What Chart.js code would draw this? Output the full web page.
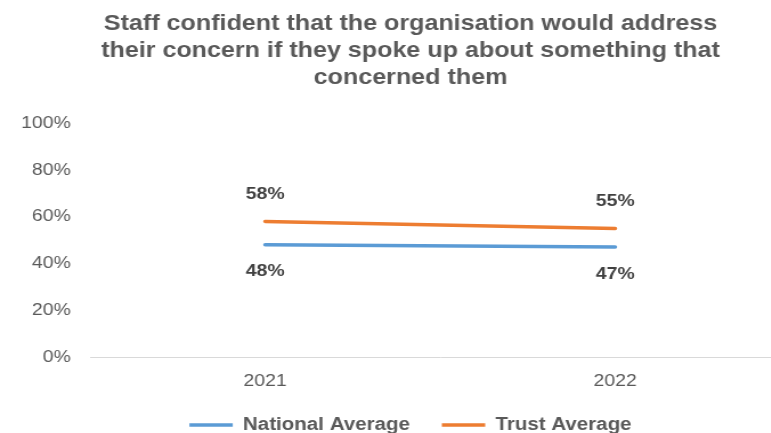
<!DOCTYPE html>
<html>
<head>
<meta charset="utf-8">
<script src="https://cdn.jsdelivr.net/npm/chart.js@4"></script>
<style>
  html, body { margin: 0; padding: 0; background: #fff; overflow: hidden; }
  /* canvas is drawn at 720px and shown wider */
  #chart { display: block; width: 821px !important; height: 433px !important; }
</style>
</head>
<body>
<canvas id="chart" width="720" height="433"></canvas>
<script>
const years = ['2021', '2022']
const nationalAverage = [48, 47]
const trustAverage = [58, 55]
const titleLines = [
    'Staff confident that the organisation would address',
    'their concern if they spoke up about something that',
    'concerned them'
]

const FONT = '"Liberation Sans", Arial, sans-serif'

// value labels: trust above its line, national below
const valueLabels = {
    id: 'valueLabels',
    afterDatasetsDraw(chart) {
        const ctx = chart.ctx
        ctx.save()
        ctx.font = 'bold 17px ' + FONT
        ctx.fillStyle = '#404040'
        ctx.textAlign = 'center'
        ctx.textBaseline = 'middle'
        chart.data.datasets.forEach((ds, i) => {
            const meta = chart.getDatasetMeta(i)
            const dy = ds.labelAbove ? -27 : 27
            meta.data.forEach((pt, j) => {
                ctx.fillText(ds.data[j] + '%', pt.x, pt.y + dy)
            })
        })
        ctx.restore()
    }
}

new Chart(document.getElementById('chart'), {
    type: 'line',
    data: {
        labels: years,
        datasets: [{
            label: 'National Average',
            data: nationalAverage,
            borderColor: '#5B9BD5',
            backgroundColor: '#5B9BD5',
            borderWidth: 3.5,
            borderCapStyle: 'round',
            pointRadius: 0,
            labelAbove: false
        }, {
            label: 'Trust Average',
            data: trustAverage,
            borderColor: '#ED7D31',
            backgroundColor: '#ED7D31',
            borderWidth: 3.5,
            borderCapStyle: 'round',
            pointRadius: 0,
            labelAbove: true
        }]
    },
    plugins: [valueLabels],
    options: {
        responsive: false,
        animation: false,
        layout: {padding: {left: 0, right: 0, top: 4, bottom: -11}},
        plugins: {
            tooltip: {enabled: false},
            title: {
                display: true,
                text: titleLines,
                color: '#595959',
                font: {family: FONT, size: 22, weight: 'bold', lineHeight: 1.23},
                padding: {top: 6, bottom: 32}
            },
            legend: {
                position: 'bottom',
                labels: {
                    usePointStyle: true,
                    pointStyle: 'line',
                    pointStyleWidth: 38,
                    color: '#595959',
                    font: {family: FONT, size: 18, weight: 'bold'},
                    padding: 28
                }
            }
        },
        scales: {
            x: {
                offset: true,
                grid: {display: false, drawTicks: false},
                border: {color: '#d9d9d9', width: 1},
                afterFit(scale) { scale.height = 31 },
                ticks: {
                    color: '#595959',
                    font: {family: FONT, size: 17},
                    padding: 14
                }
            },
            y: {
                min: 0,
                max: 100,
                grid: {display: false, drawTicks: false},
                border: {display: false},
                afterFit(scale) { scale.width = 79 },
                ticks: {
                    stepSize: 20,
                    color: '#595959',
                    font: {family: FONT, size: 17},
                    padding: 17,
                    callback: v => v + '%'
                }
            },
            // empty right-hand axis, only keeps a margin after the plot
            yGap: {
                type: 'linear',
                position: 'right',
                grid: {display: false, drawTicks: false},
                border: {display: false},
                ticks: {display: false},
                afterFit(scale) { scale.width = 27 }
            }
        }
    }
})
</script>
</body>
</html>
